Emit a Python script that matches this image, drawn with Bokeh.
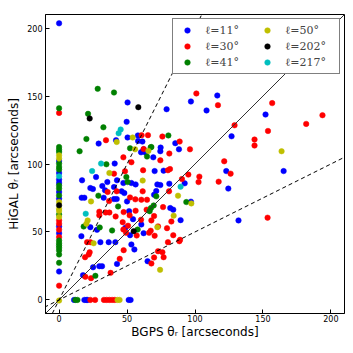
from bokeh.plotting import figure
from bokeh.models import Slope, Legend, LegendItem, Range1d, FixedTicker
from bokeh.embed import file_html
from bokeh.resources import INLINE

ticks = [0, 50, 100, 150, 200]

x_11 = [0, 0, 0, 0, 0, 0, 0, 0, 0, 0,
        50.4, 79.1, 49.7, 116.4, 97, 108.5,
        41.9, 58, 58.1, 85.5, 74.7, 88.2, 62.2,
        61.3, 50.4, 60.3, 63.5, 74.5, 69.3,
        70.3, 76.9, 92.4, 123, 124.5, 126.9,
        47.3, 53.2, 56.3, 72.3, 74.5, 71.5, 81.1,
        46, 48, 50, 69.9, 81.8, 84, 97,
        51.5, 54.4, 60.5, 89.4, 52.2, 62.2, 48.8,
        132, 151.9, 165.2,
        53.2, 55.4, 65.1,
        51.2, 52.6, 11, 18.6, 20, 21,
        17.6, 25, 29.6, 31.6, 42.6, 30.4, 36.5, 41.4,
        29.1, 40.9, 16.9, 27.2, 35.5, 23, 24.9, 31.8, 33.8, 40.4, 42.6,
        16.6, 18.6, 32.8, 40.4, 42.4, 23, 27.9, 16.4]
y_11 = [203.5, 102.2, 93.4, 88.5, 86, 79.4, 74.5, 54.1, 49.1, 20.9,
        145.3, 140.3, 131, 150.4, 146, 139.4,
        117.5, 121, 117, 115.3, 112.1, 110.8, 110.8,
        116.5, 119.5, 108.6, 108.4, 109.4, 104.9,
        94.8, 95.1, 85.8, 94.8, 81.9, 120.4,
        86, 86, 85, 85, 84.5, 80.1, 85.5,
        79.9, 78.6, 72.5, 77.4, 67.6, 66.4, 72.3,
        65.3, 59.4, 55.5, 58.7, 47.6, 49.1, 53.1,
        58.5, 136.4, 94.8,
        40.8, 37.1, 28.5,
        0, 0, 0, 0, 0, 0,
        18.2, 24, 24.8, 24.8, 26.5, 42.5, 42.5, 42.5,
        115, 100.3, 88, 90.4, 86.7, 82.3, 81.6, 83.8, 80.6, 83, 88,
        75.2, 75.2, 75.2, 74.2, 74.2, 53.5, 51.6, 46.9]

x_30 = [0, 0, 0, 0, 0, 0,
        101, 116.9, 129.1,
        34.5, 60.7, 65.4, 76, 88.7, 96.3,
        62.2, 81.1, 74.5, 47.3, 53.2, 48.5, 61.8, 80.1, 81.6, 95.1, 103.2, 102.6, 90.4, 117.4, 121.5, 126.2,
        80.9, 61.5, 52.2, 56.1, 60.5, 64.7, 76.5, 64.4, 56.3, 47.5, 69.9, 67.9, 60.3, 51.9, 82.6, 79.4, 84, 89,
        47.3, 49.3, 66.2, 67.4, 70.3, 57.1, 72.8, 46.8, 50.7,
        156.8, 193.8, 181.8, 153.7, 143.8, 143.8, 153.4,
        47.5, 80.1, 88.5, 72.8, 76, 76.9, 69.9, 67.9,
        23, 26.5, 33, 35, 37, 39, 41,
        19.3, 23.5, 37.9, 44.6, 21.8, 22.5, 19.1, 20.6, 23,
        40.4, 35.7, 42.4, 36.8, 29.6, 29.6, 34.3, 37, 41.6]
y_30 = [137.6, 58.5, 56, 51.6, 46.2, 10.5,
        151.9, 143.3, 128.5,
        117.5, 121.2, 121.2, 120.2, 116.5, 110.8,
        111, 107.7, 102.7, 104.9, 101.3, 94.6, 95.4, 95.4, 96.3, 92.2, 90.7, 86.7, 88.9, 87, 102, 92.9,
        79.9, 79.9, 75.4, 74, 73.7, 73.7, 68.3, 66.4, 65.6, 64.6, 61.7, 58.5, 59, 62.2, 57.7, 52.8, 47.6, 44.2,
        51.8, 49.4, 49.4, 50.9, 47.2, 47.4, 54.1, 57.2, 54.6,
        144.8, 135.9, 129.5, 124.3, 118, 113.6, 60.5,
        36.6, 42.5, 43.2, 35.8, 35.1, 31.4, 31.2, 26.8,
        0, 0, 0, 0, 0, 0, 0,
        17, 16, 19.9, 30.2, 33.4, 35.1, 31.4, 42.5, 42.5,
        92.9, 79.4, 79.9, 72.7, 64.9, 62.3, 64.3, 64.3, 61.4]

x_41 = [0, 0, 0, 0, 0, 0, 0, 0, 0, 0, 0, 0, 0, 0, 0, 0, 0, 0,
        28.4, 40.4, 21.3, 32.6,
        80.4, 67.4, 52.2, 64.7, 67.9,
        49.5, 50.4, 71.5, 93.6, 67.6, 69.6, 66.6, 57.8,
        12, 13.5, 26.7,
        15.1, 20.1, 34.8, 28.9, 43.4, 18.1, 29.9, 39]
y_41 = [141, 112.5, 110.5, 108.9, 100.3, 97.8, 95.9, 84.1, 81.9, 76.9, 62.9, 43.7, 41.7, 40, 38.3, 36.4, 33.4, 27.3,
        155.3, 152.6, 136.9, 127,
        121, 112.3, 111.6, 105.5, 112.5,
        90.4, 86.7, 76.2, 72, 67.6, 69.5, 65.3, 51.8,
        0, 0, 17.7,
        109.4, 118.4, 99.8, 76.7, 68.8, 54, 53.3, 51.1]

x_50 = [0, 0, 0, 0, 0, 0, 0,
        42.4, 54.1, 55.9, 65.7, 61.5, 87.5, 97.3, 84.3, 72.3, 163.7, 74.3,
        43, 44.5, 25.4, 37, 23.5, 21, 20.1]
y_50 = [106.4, 104, 72.1, 67.1, 65.4, 61, -0.5,
        116.2, 119.5, 110.8, 109.6, 87.8, 76.7, 71, 62, 53.5, 109.4, 22.1,
        0, 0, 41.7, 93.4, 72.5, 58.5, 56]

x_202 = [22.5, 58.3, 0, 54.9]
y_202 = [133.5, 141.8, 69.6, 50.6]

x_217 = [45.3, 43.8, 89.4, 30.9, 24.3, 19.6, 0]
y_217 = [125.4, 122.6, 83.3, 100.3, 94.8, 63.4, 90.9]

series = [
    ("ℓ=11°", x_11, y_11, "#0000ff"),
    ("ℓ=30°", x_30, y_30, "#ff0000"),
    ("ℓ=41°", x_41, y_41, "#008000"),
    ("ℓ=50°", x_50, y_50, "#bfbf00"),
    ("ℓ=202°", x_202, y_202, "#000000"),
    ("ℓ=217°", x_217, y_217, "#00bfbf"),
]

p = figure(width=345, height=341, output_backend="svg", toolbar_location=None,
           x_range=Range1d(-10, 210), y_range=Range1d(-10, 210),
           min_border_left=45, min_border_right=1, min_border_top=14, min_border_bottom=28)
p.grid.visible = False
p.outline_line_color = "black"
p.background_fill_color = "white"
p.border_fill_color = "white"

for ax in (p.xaxis[0], p.yaxis[0]):
    ax.ticker = FixedTicker(ticks=ticks)
    ax.major_tick_in = 4
    ax.major_tick_out = 0
    ax.minor_tick_in = 0
    ax.minor_tick_out = 0
    ax.axis_line_color = "black"
    ax.major_tick_line_color = "black"
    ax.major_label_text_font = "DejaVu Sans"
    ax.major_label_text_font_size = "8px"
    ax.major_label_text_color = "black"
    ax.axis_label_text_font = "DejaVu Sans"
    ax.axis_label_text_font_size = "12px"
    ax.axis_label_text_font_style = "normal"
    ax.axis_label_text_color = "black"

p.xaxis.axis_label = "BGPS θᵣ [arcseconds]"
p.yaxis.axis_label = "HiGAL θᵣ [arcseconds]"
p.xaxis.major_label_standoff = 1
p.xaxis.axis_label_standoff = 0
p.yaxis.major_label_standoff = 3
p.yaxis.axis_label_standoff = 3

p.add_layout(Slope(gradient=1, y_intercept=0, line_color="#333333", line_width=1))
p.add_layout(Slope(gradient=2, y_intercept=0, line_color="black", line_width=1, line_dash="4 3"))
p.add_layout(Slope(gradient=0.5, y_intercept=0, line_color="black", line_width=1, line_dash="4 3"))

items = []
for label, xs, ys, col in series:
    r = p.scatter(xs, ys, size=5.5, fill_color=col, line_color=col, line_width=0.5)
    items.append(LegendItem(label=label, renderers=[r]))

legend = Legend(items=items, location="top_right", ncols=2,
                label_text_font="DejaVu Serif", label_text_font_size="11px",
                label_text_font_style="normal",
                border_line_color="black", border_line_width=1,
                background_fill_color="white", background_fill_alpha=1,
                margin=4, padding=4, spacing=2, glyph_width=20, glyph_height=14,
                label_standoff=8, label_height=14, label_width=50)
p.add_layout(legend)

open("out.html", "w").write(file_html(p, INLINE))
